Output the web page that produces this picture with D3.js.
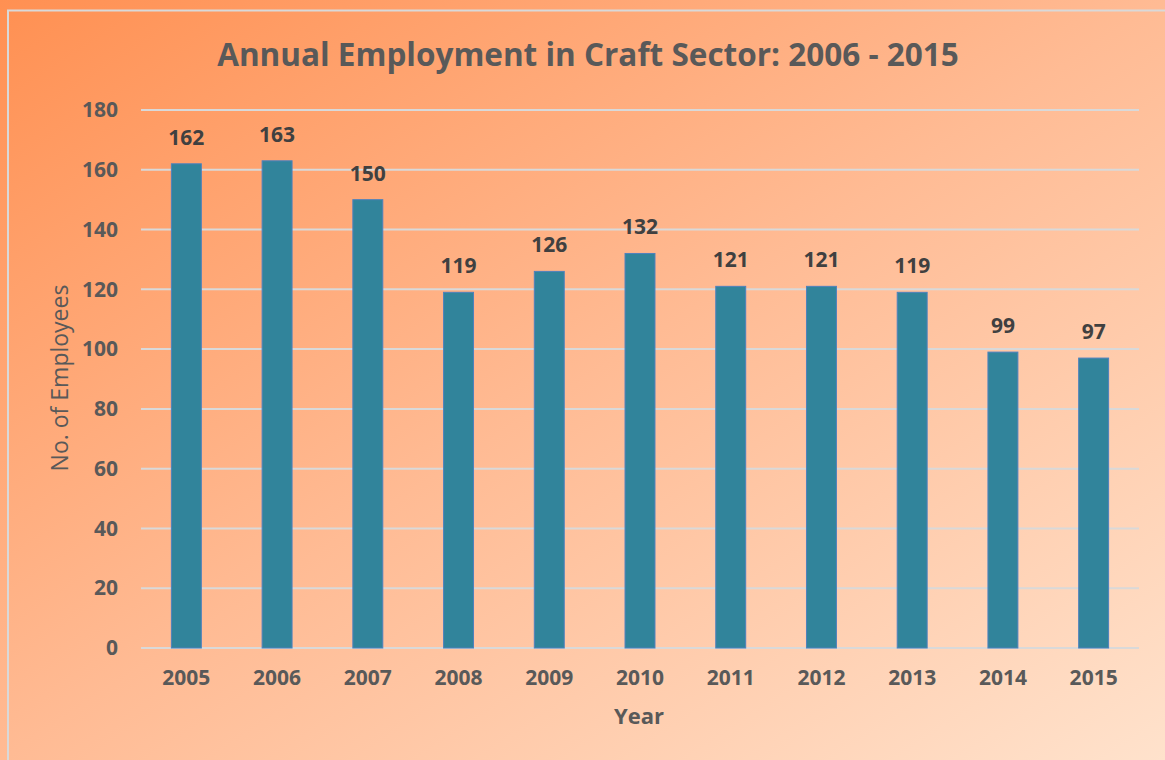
<!DOCTYPE html>
<html>
<head>
<meta charset="utf-8">
<script src="https://cdn.jsdelivr.net/npm/d3@7"></script>
<style>
  html, body { margin: 0; padding: 0; background: #ffb98f; }
  svg { display: block; }
</style>
</head>
<body>
<svg id="chart" width="1165" height="760"></svg>
<script>
// Employment figures per year
const years = ["2005", "2006", "2007", "2008", "2009", "2010", "2011", "2012", "2013", "2014", "2015"];
const employees = [162, 163, 150, 119, 126, 132, 121, 121, 119, 99, 97];
const yTicks = [0, 20, 40, 60, 80, 100, 120, 140, 160, 180];

const W = 1165, H = 760;
const margin = { left: 141, right: 26, top: 110, bottom: 112 };
const font = "'Open Sans', Lato, Calibri, sans-serif";

const svg = d3.select("#chart");

// Diagonal orange-to-peach background
const defs = svg.append("defs");
const grad = defs.append("linearGradient")
  .attr("id", "bg").attr("x1", "0").attr("y1", "0").attr("x2", "1").attr("y2", "1");
grad.append("stop").attr("offset", "0%").attr("stop-color", "#ff9052");
grad.append("stop").attr("offset", "50%").attr("stop-color", "#ffbb94");
grad.append("stop").attr("offset", "100%").attr("stop-color", "#ffe2cc");
svg.append("rect").attr("width", W).attr("height", H).attr("fill", "url(#bg)");

// Chart frame (runs off the right and bottom edges)
svg.append("rect")
  .attr("x", 8).attr("y", 10.5).attr("width", W + 20).attr("height", H + 20)
  .attr("fill", "none").attr("stroke", "#d9d9d9").attr("stroke-width", 2);

const x = d3.scaleBand()
  .domain(years)
  .range([margin.left, W - margin.right])
  .paddingInner(0.67).paddingOuter(0.335);

const y = d3.scaleLinear()
  .domain([0, 180])
  .range([H - margin.bottom, margin.top]);

// Horizontal gridlines
svg.append("g")
  .selectAll("line")
  .data(yTicks)
  .join("line")
  .attr("x1", margin.left).attr("x2", W - margin.right)
  .attr("y1", d => y(d)).attr("y2", d => y(d))
  .attr("stroke", "#d9d9d9").attr("stroke-width", 2);

// Y axis tick labels
const yAxis = svg.append("g")
  .attr("transform", `translate(${margin.left},0)`)
  .call(d3.axisLeft(y).tickValues(yTicks).tickSize(0).tickPadding(23));
yAxis.select(".domain").remove();
yAxis.selectAll("text")
  .attr("font-family", font).attr("font-size", 21).attr("font-weight", 700)
  .attr("fill", "#595959");

// X axis tick labels
const xAxis = svg.append("g")
  .attr("transform", `translate(0,${H - margin.bottom})`)
  .call(d3.axisBottom(x).tickSize(0).tickPadding(22));
xAxis.select(".domain").remove();
xAxis.selectAll("text")
  .attr("font-family", font).attr("font-size", 21).attr("font-weight", 700)
  .attr("fill", "#595959");

// Bars
svg.append("g")
  .selectAll("rect")
  .data(employees)
  .join("rect")
  .attr("x", (d, i) => x(years[i]))
  .attr("y", d => y(d))
  .attr("width", x.bandwidth())
  .attr("height", d => y(0) - y(d))
  .attr("fill", "#31849b")
  .attr("stroke", "#4f81bd").attr("stroke-width", 1);

// Value labels above each bar
svg.append("g")
  .selectAll("text")
  .data(employees)
  .join("text")
  .attr("x", (d, i) => x(years[i]) + x.bandwidth() / 2)
  .attr("y", d => y(d) - 19)
  .attr("text-anchor", "middle")
  .attr("font-family", font).attr("font-size", 21).attr("font-weight", 700)
  .attr("fill", "#404040")
  .text(d => d);

// Title
svg.append("text")
  .attr("x", 588).attr("y", 66)
  .attr("text-anchor", "middle")
  .attr("font-family", font).attr("font-size", 31.5).attr("font-weight", 700)
  .attr("fill", "#595959")
  .text("Annual Employment in Craft Sector: 2006 - 2015");

// Axis titles
svg.append("text")
  .attr("x", 639).attr("y", 724)
  .attr("text-anchor", "middle")
  .attr("font-family", font).attr("font-size", 22).attr("font-weight", 700)
  .attr("fill", "#595959")
  .text("Year");

svg.append("text")
  .attr("transform", "translate(68,378) rotate(-90)")
  .attr("text-anchor", "middle")
  .attr("font-family", font).attr("font-size", 23)
  .attr("fill", "#595959")
  .text("No. of Employees");
</script>
</body>
</html>
